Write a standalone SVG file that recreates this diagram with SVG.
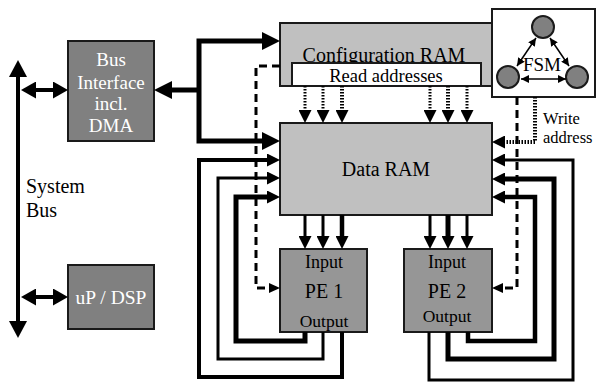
<svg xmlns="http://www.w3.org/2000/svg" width="596" height="382" viewBox="0 0 596 382">
<style>
  text { font-family: "Liberation Serif", "Times New Roman", serif; fill: #000; }
  .w { fill: #fff; }
  .box { stroke: #1a1a1a; stroke-width: 2; }
  .dark { fill: #808080; }
  .pe { fill: #969696; }
  .light { fill: #c0c0c0; }
  .white { fill: #fff; }
  .ln { fill: none; stroke: #000; stroke-linejoin: miter; stroke-linecap: butt; }
  .dash { fill: none; stroke: #000; stroke-width: 3; stroke-dasharray: 8 5; }
  .dot { fill: none; stroke: #000; stroke-dasharray: 1.5 1.5; }
  .thin { fill: none; stroke: #000; stroke-width: 1.5; }
</style>
<defs>
  <marker id="aBus" markerUnits="userSpaceOnUse" markerWidth="17" markerHeight="18" refX="0" refY="9" orient="auto-start-reverse"><path d="M0,0 L17,9 L0,18 z"/></marker>
  <marker id="aBig" markerUnits="userSpaceOnUse" markerWidth="18" markerHeight="18" refX="0" refY="9" orient="auto-start-reverse"><path d="M0,0 L18,9 L0,18 z"/></marker>
  <marker id="aDbl" markerUnits="userSpaceOnUse" markerWidth="15" markerHeight="17" refX="0" refY="8.5" orient="auto-start-reverse"><path d="M0,0 L15,8.5 L0,17 z"/></marker>
  <marker id="aMed" markerUnits="userSpaceOnUse" markerWidth="13" markerHeight="13" refX="0" refY="6.5" orient="auto-start-reverse"><path d="M0,0 L13,6.5 L0,13 z"/></marker>
  <marker id="aSm" markerUnits="userSpaceOnUse" markerWidth="11" markerHeight="10" refX="0" refY="5" orient="auto-start-reverse"><path d="M0,0 L11,5 L0,10 z"/></marker>
  <marker id="aTiny" markerUnits="userSpaceOnUse" markerWidth="8" markerHeight="8" refX="8" refY="4" orient="auto-start-reverse"><path d="M0,0 L8,4 L0,8 z"/></marker>
</defs>

<g id="system-bus">
  <text x="26" y="193" font-size="20">System</text>
  <text x="26" y="217" font-size="20">Bus</text>
</g>

<g id="bus-interface">
  <rect class="box dark" x="68" y="41" width="86" height="100"/>
  <text class="w" x="111" y="66" font-size="19" text-anchor="middle">Bus</text>
  <text class="w" x="111" y="89" font-size="19" text-anchor="middle">Interface</text>
  <text class="w" x="111" y="110" font-size="19" text-anchor="middle">incl.</text>
  <text class="w" x="111" y="132" font-size="19" text-anchor="middle">DMA</text>
</g>

<g id="up-dsp">
  <rect class="box dark" x="68" y="265" width="86" height="64"/>
  <text class="w" x="111" y="304" font-size="19.5" text-anchor="middle">uP / DSP</text>
</g>

<g id="config-ram">
  <rect class="box light" x="280" y="23" width="212" height="63"/>
  <text x="384" y="62" font-size="20" text-anchor="middle">Configuration RAM</text>
  <rect class="box white" x="292" y="63" width="189" height="23"/>
  <text x="386" y="82" font-size="18.5" text-anchor="middle">Read addresses</text>
</g>

<g id="fsm">
  <rect class="box white" x="492" y="9" width="103" height="88"/>
  <circle class="box dark" cx="543" cy="27" r="11"/>
  <circle class="box dark" cx="508" cy="77" r="11"/>
  <circle class="box dark" cx="577" cy="77" r="11"/>
  <path class="thin" d="M536,38 L517,66" marker-start="url(#aTiny)" marker-end="url(#aTiny)"/>
  <path class="thin" d="M550,38 L569,66" marker-start="url(#aTiny)" marker-end="url(#aTiny)"/>
  <path class="thin" d="M521,79 L566,79" marker-start="url(#aTiny)" marker-end="url(#aTiny)"/>
  <text x="542" y="71" font-size="19" text-anchor="middle">FSM</text>
</g>

<g id="data-ram">
  <rect class="box light" x="280" y="123" width="212" height="92"/>
  <text x="386" y="176" font-size="20" text-anchor="middle">Data RAM</text>
</g>

<g id="pe1">
  <rect class="box pe" x="280" y="249" width="87" height="83"/>
  <text x="324" y="268" font-size="18" text-anchor="middle">Input</text>
  <text x="324" y="298" font-size="20" text-anchor="middle">PE 1</text>
  <text x="324" y="327" font-size="17.5" text-anchor="middle">Output</text>
</g>

<g id="pe2">
  <rect class="box pe" x="404" y="249" width="88" height="83"/>
  <text x="447" y="268" font-size="18" text-anchor="middle">Input</text>
  <text x="447" y="298" font-size="20" text-anchor="middle">PE 2</text>
  <text x="447" y="322" font-size="17.5" text-anchor="middle">Output</text>
</g>

<g id="write-address-label">
  <text x="543" y="124" font-size="16.5">Write</text>
  <text x="543" y="143" font-size="16.5">address</text>
</g>

<g id="connectors">
  <!-- system bus -->
  <path class="ln" stroke-width="4" d="M18,77 V321" marker-start="url(#aBus)" marker-end="url(#aBus)"/>
  <path class="ln" stroke-width="4" d="M36,90 H53" marker-start="url(#aDbl)" marker-end="url(#aDbl)"/>
  <path class="ln" stroke-width="4" d="M36,297 H53" marker-start="url(#aDbl)" marker-end="url(#aDbl)"/>
  <!-- bus interface to RAMs -->
  <path class="ln" stroke-width="5" d="M262,41 H199 V141 H262" marker-start="url(#aBig)" marker-end="url(#aBig)"/>
  <path class="ln" stroke-width="5" d="M199,90 H172" marker-end="url(#aBig)"/>
  <!-- dashed control lines -->
  <path class="dash" d="M280,66 H256 V288 H269" marker-end="url(#aSm)"/>
  <path class="dash" d="M517,97 V288 H503" marker-end="url(#aSm)"/>
  <!-- write address -->
  <path class="dot" stroke-width="4" d="M535,97 V142 H505" marker-end="url(#aMed)"/>
  <!-- read addresses -->
  <path class="dot" stroke-width="3" d="M305,86 V110" marker-end="url(#aMed)"/>
  <path class="dot" stroke-width="3" d="M323,86 V110" marker-end="url(#aMed)"/>
  <path class="dot" stroke-width="4" d="M342,86 V110" marker-end="url(#aMed)"/>
  <path class="dot" stroke-width="3" d="M430,86 V110" marker-end="url(#aMed)"/>
  <path class="dot" stroke-width="4" d="M448,86 V110" marker-end="url(#aMed)"/>
  <path class="dot" stroke-width="3" d="M467,86 V110" marker-end="url(#aMed)"/>
  <!-- Data RAM to PEs -->
  <path class="ln" stroke-width="3" d="M305,215 V236" marker-end="url(#aMed)"/>
  <path class="ln" stroke-width="3" d="M323,215 V236" marker-end="url(#aMed)"/>
  <path class="ln" stroke-width="4.5" d="M342,215 V236" marker-end="url(#aMed)"/>
  <path class="ln" stroke-width="3" d="M430,215 V236" marker-end="url(#aMed)"/>
  <path class="ln" stroke-width="5" d="M448,215 V236" marker-end="url(#aMed)"/>
  <path class="ln" stroke-width="3" d="M467,215 V236" marker-end="url(#aMed)"/>
  <!-- PE1 feedback loops -->
  <path class="ln" stroke-width="5" d="M305,332 V341 H236 V197 H267" marker-end="url(#aMed)"/>
  <path class="ln" stroke-width="3" d="M323,332 V359 H218 V178 H267" marker-end="url(#aMed)"/>
  <path class="ln" stroke-width="4" d="M342,332 V377 H199 V160 H267" marker-end="url(#aMed)"/>
  <!-- PE2 feedback loops -->
  <path class="ln" stroke-width="4.5" d="M468,332 V341 H535 V197 H505" marker-end="url(#aMed)"/>
  <path class="ln" stroke-width="5" d="M448,332 V359 H554 V179 H505" marker-end="url(#aMed)"/>
  <path class="ln" stroke-width="3" d="M429,332 V380 H573 V160 H505" marker-end="url(#aMed)"/>
</g>
</svg>
